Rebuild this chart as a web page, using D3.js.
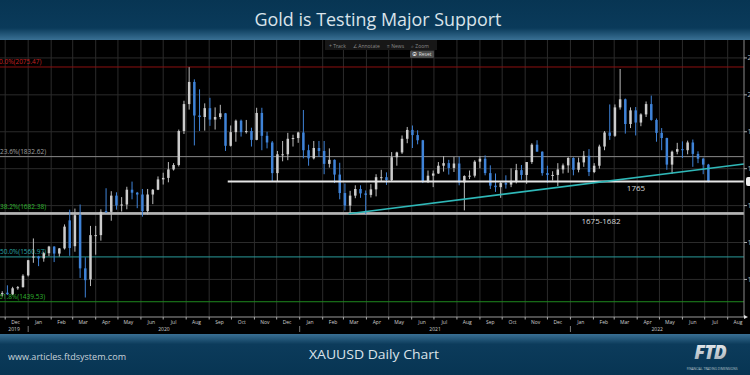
<!DOCTYPE html>
<html>
<head>
<meta charset="utf-8">
<title>Gold is Testing Major Support</title>
<script src="https://cdn.jsdelivr.net/npm/d3@7"></script>
<style>
  body { margin: 0; background: #000; overflow: hidden; }
  svg { display: block; font-family: "Open Sans", Lato, sans-serif; }
</style>
</head>
<body>
<div id="chart"></div>
<script>
// XAUUSD, one bar per week (monday)
const weeks = [
  "2019-11-25","2019-12-02","2019-12-09","2019-12-16","2019-12-23","2019-12-30",
  "2020-01-06","2020-01-13","2020-01-20","2020-01-27","2020-02-03","2020-02-10","2020-02-17","2020-02-24",
  "2020-03-02","2020-03-09","2020-03-16","2020-03-23","2020-03-30","2020-04-06","2020-04-13","2020-04-20","2020-04-27",
  "2020-05-04","2020-05-11","2020-05-18","2020-05-25","2020-06-01","2020-06-08","2020-06-15","2020-06-22","2020-06-29",
  "2020-07-06","2020-07-13","2020-07-20","2020-07-27","2020-08-03","2020-08-10","2020-08-17","2020-08-24","2020-08-31",
  "2020-09-07","2020-09-14","2020-09-21","2020-09-28","2020-10-05","2020-10-12","2020-10-19","2020-10-26",
  "2020-11-02","2020-11-09","2020-11-16","2020-11-23","2020-11-30","2020-12-07","2020-12-14","2020-12-21","2020-12-28",
  "2021-01-04","2021-01-11","2021-01-18","2021-01-25","2021-02-01","2021-02-08","2021-02-15","2021-02-22",
  "2021-03-01","2021-03-08","2021-03-15","2021-03-22","2021-03-29","2021-04-05","2021-04-12","2021-04-19","2021-04-26",
  "2021-05-03","2021-05-10","2021-05-17","2021-05-24","2021-05-31","2021-06-07","2021-06-14","2021-06-21","2021-06-28",
  "2021-07-05","2021-07-12","2021-07-19","2021-07-26","2021-08-02","2021-08-09","2021-08-16","2021-08-23","2021-08-30",
  "2021-09-06","2021-09-13","2021-09-20","2021-09-27","2021-10-04","2021-10-11","2021-10-18","2021-10-25",
  "2021-11-01","2021-11-08","2021-11-15","2021-11-22","2021-11-29","2021-12-06","2021-12-13","2021-12-20","2021-12-27",
  "2022-01-03","2022-01-10","2022-01-17","2022-01-24","2022-01-31","2022-02-07","2022-02-14","2022-02-21","2022-02-28",
  "2022-03-07","2022-03-14","2022-03-21","2022-03-28","2022-04-04","2022-04-11","2022-04-18","2022-04-25",
  "2022-05-02","2022-05-09","2022-05-16","2022-05-23","2022-05-30","2022-06-06","2022-06-13","2022-06-20","2022-06-27","2022-07-04"
];
const opens = [
  1462,1464,1460,1476,1479,1511,
  1560,1562,1557,1571,1589,1570,1584,1660,
  1590,1675,1530,1500,1620,1620,1685,1683,1727,
  1700,1703,1743,1735,1730,1685,1730,1743,1771,
  1775,1798,1810,1902,1975,2035,1944,1940,1964,
  1933,1940,1950,1862,1899,1930,1899,1902,
  1878,1951,1889,1871,1788,1839,1839,1881,1883,
  1898,1850,1828,1856,1848,1813,1824,1784,
  1734,1700,1727,1745,1733,1729,1744,1777,1777,
  1769,1831,1844,1881,1905,1891,1877,1764,1781,
  1787,1808,1815,1802,1814,1763,1780,1781,1819,
  1827,1788,1754,1750,1761,1757,1767,1796,
  1783,1818,1865,1846,1788,1783,1783,1798,1809,
  1829,1797,1817,1835,1791,1808,1860,1898,1889,
  1966,1988,1921,1958,1925,1947,1975,1932,
  1897,1883,1811,1846,1853,1850,1871,1840,1827,1811
];
const highs = [
  1468,1484,1480,1482,1514,1553,
  1611,1564,1575,1591,1590,1585,1649,1689,
  1692,1703,1560,1645,1645,1690,1747,1739,1736,
  1723,1751,1765,1737,1745,1745,1745,1779,1789,
  1818,1815,1906,1984,2075,2042,2015,1977,1992,
  1966,1973,1951,1917,1933,1933,1932,1911,
  1965,1965,1900,1875,1848,1875,1897,1892,1900,
  1959,1865,1875,1875,1875,1855,1825,1816,
  1760,1740,1755,1755,1741,1758,1785,1797,1790,
  1845,1846,1890,1913,1917,1904,1878,1795,1795,
  1818,1834,1824,1832,1832,1782,1795,1823,1834,
  1836,1809,1787,1765,1782,1801,1813,1810,
  1818,1869,1877,1847,1808,1793,1815,1814,1831,
  1831,1830,1848,1853,1815,1865,1902,1974,1974,
  2070,1990,1966,1967,1950,1982,1998,1936,
  1910,1884,1849,1870,1874,1876,1879,1847,1830,1813
];
const lows = [
  1454,1458,1458,1472,1478,1508,
  1545,1536,1548,1563,1547,1562,1581,1564,
  1575,1504,1451,1482,1567,1605,1680,1659,1689,
  1684,1690,1717,1693,1670,1676,1704,1742,1757,
  1763,1795,1806,1894,1960,1863,1902,1903,1916,
  1906,1934,1848,1860,1873,1887,1895,1860,
  1877,1850,1855,1764,1765,1820,1823,1860,1870,
  1828,1808,1825,1832,1785,1803,1761,1717,
  1687,1676,1720,1721,1677,1722,1725,1764,1756,
  1766,1808,1840,1869,1856,1866,1761,1761,1750,
  1786,1792,1784,1791,1755,1687,1772,1776,1801,
  1782,1745,1737,1721,1746,1750,1760,1770,
  1759,1813,1847,1781,1762,1768,1753,1787,1789,
  1782,1790,1805,1780,1788,1800,1850,1878,1886,
  1960,1895,1910,1890,1915,1940,1930,1873,
  1850,1797,1786,1839,1829,1839,1805,1815,1785,1763
];
const closes = [
  1463,1460,1476,1479,1510,1552,
  1562,1557,1571,1589,1570,1584,1643,1585,
  1674,1530,1498,1620,1620,1683,1683,1727,1700,
  1703,1743,1735,1730,1685,1730,1743,1771,1775,
  1798,1810,1902,1975,2035,1944,1940,1964,1933,
  1940,1950,1862,1899,1930,1899,1902,1878,
  1951,1889,1871,1788,1839,1839,1881,1883,1898,
  1850,1828,1856,1848,1813,1824,1784,1734,
  1700,1727,1745,1733,1729,1744,1777,1777,1769,
  1831,1844,1881,1905,1891,1877,1764,1781,1787,
  1808,1815,1802,1814,1763,1780,1781,1819,1827,
  1788,1754,1750,1761,1757,1767,1796,1783,
  1818,1865,1846,1788,1783,1783,1798,1809,1829,
  1797,1817,1835,1791,1808,1860,1898,1889,1966,
  1988,1921,1958,1925,1947,1975,1932,1897,
  1883,1811,1846,1853,1850,1871,1840,1827,1811,1765
];

const fibNames = ["0.0%", "23.6%", "38.2%", "50.0%", "61.8%"];
const fibPrices = [2075.47, 1832.62, 1682.38, 1560.97, 1439.53];
const priceTicks = [1500, 1600, 1700, 1800, 1900, 2000, 2100];
const supportPrice = 1765;
const supportFrom = "2020-09-26";
const zone = [1675, 1682.38];
const trendDates = ["2021-03-08", "2022-08-23"];
const trendPrices = [1678, 1813];
const toolNames = ["+ Track", "\u2220 Annotate", "\u2261 News", "\u2315 Zoom"];

const W = 750, H = 375;
const plotTop = 40, axisY = 317, plotRight = 744;
const parse = d3.timeParse("%Y-%m-%d");

const svg = d3.select("#chart").append("svg").attr("width", W).attr("height", H);
const defs = svg.append("defs");

// header / footer gradients
const g1 = defs.append("linearGradient").attr("id", "hdr").attr("x1", 0).attr("y1", 0).attr("x2", 0).attr("y2", 1);
g1.append("stop").attr("offset", "0%").attr("stop-color", "#073553");
g1.append("stop").attr("offset", "70%").attr("stop-color", "#0a3a5a");
g1.append("stop").attr("offset", "100%").attr("stop-color", "#3a7094");
const g2 = defs.append("linearGradient").attr("id", "ftr").attr("x1", 0).attr("y1", 0).attr("x2", 0).attr("y2", 1);
g2.append("stop").attr("offset", "0%").attr("stop-color", "#3a7094");
g2.append("stop").attr("offset", "25%").attr("stop-color", "#0c3b5b");
g2.append("stop").attr("offset", "100%").attr("stop-color", "#073553");
const g3 = defs.append("linearGradient").attr("id", "logo").attr("x1", 0).attr("y1", 0).attr("x2", 0).attr("y2", 1);
g3.append("stop").attr("offset", "0%").attr("stop-color", "#f4f6f8");
g3.append("stop").attr("offset", "100%").attr("stop-color", "#9aa6b0");

svg.append("rect").attr("width", W).attr("height", H).attr("fill", "#000");

// scales
const x = d3.scaleTime()
  .domain([new Date(2019, 10, 24), new Date(2022, 7, 23)])
  .range([0, plotRight]);
const y = d3.scaleLinear().domain([1398.2, 2148.6]).range([axisY, plotTop]);

const plot = svg.append("g");

// grid
const months = d3.timeMonth.range(new Date(2019, 11, 1), new Date(2022, 8, 1));
plot.selectAll(".vgrid").data(months).enter().append("line")
  .attr("x1", d => x(d)).attr("x2", d => x(d))
  .attr("y1", plotTop).attr("y2", axisY)
  .attr("stroke", "#2b2b2b").attr("stroke-width", 1);
plot.selectAll(".hgrid").data(priceTicks).enter().append("line")
  .attr("x1", 0).attr("x2", plotRight)
  .attr("y1", d => y(d)).attr("y2", d => y(d))
  .attr("stroke", "#2b2b2b").attr("stroke-width", 1);

// support zone 1675-1682
plot.append("rect")
  .attr("x", 0).attr("width", plotRight)
  .attr("y", y(zone[1])).attr("height", y(zone[0]) - y(zone[1]))
  .attr("fill", "#b4b4b4");

// fib lines + labels
const fibLine = ["#8c1010", "#8a8a8a", "#b4b4b4", "#2a9a9a", "#1f8a1f"];
const fibText = ["#c82020", "#a0a0a0", "#2fb52f", "#2aa5a5", "#2fb52f"];
fibPrices.forEach((p, i) => {
  if (i != 2) {
    plot.append("line").attr("x1", 0).attr("x2", plotRight)
      .attr("y1", y(p)).attr("y2", y(p))
      .attr("stroke", fibLine[i]).attr("stroke-width", 1);
  }
  plot.append("text")
    .attr("x", i == 0 || i == 4 ? -1 : 0).attr("y", y(p) - 3)
    .attr("fill", fibText[i]).attr("font-size", 6.5)
    .text(fibNames[i] + "(" + p.toFixed(2) + ")");
});

// price bars
const bars = weeks.map((w, i) => ({
  date: parse(w), o: opens[i], h: highs[i], l: lows[i], c: closes[i]
}));
const dayW = x(new Date(2020, 0, 2)) - x(new Date(2020, 0, 1));
const bar = plot.selectAll(".bar").data(bars).enter().append("g");
bar.append("line")
  .attr("x1", d => x(d.date) + 2 * dayW).attr("x2", d => x(d.date) + 2 * dayW)
  .attr("y1", d => y(d.h)).attr("y2", d => y(d.l))
  .attr("stroke", d => d.c >= d.o ? "#bdbdbd" : "#3f83d8").attr("stroke-width", 1);
bar.append("rect")
  .attr("x", d => x(d.date) + 2 * dayW - 1.25).attr("width", 2.5)
  .attr("y", d => y(Math.max(d.o, d.c)))
  .attr("height", d => Math.max(1, Math.abs(y(d.o) - y(d.c))))
  .attr("fill", d => d.c >= d.o ? "#cccccc" : "#3f83d8");

// 1765 support line
plot.append("line")
  .attr("x1", x(parse(supportFrom))).attr("x2", plotRight)
  .attr("y1", y(supportPrice)).attr("y2", y(supportPrice))
  .attr("stroke", "#e6e6e6").attr("stroke-width", 2);

// rising trend line
plot.append("line")
  .attr("x1", x(parse(trendDates[0]))).attr("y1", y(trendPrices[0]))
  .attr("x2", x(parse(trendDates[1]))).attr("y2", y(trendPrices[1]))
  .attr("stroke", "#2fb8b8").attr("stroke-width", 1.5);

plot.append("text").attr("x", 636).attr("y", 191)
  .attr("text-anchor", "middle").attr("fill", "#d8d8d8").attr("font-size", 8)
  .text("1765");
plot.append("text").attr("x", 601).attr("y", 224)
  .attr("text-anchor", "middle").attr("fill", "#d8d8d8").attr("font-size", 8)
  .text("1675-1682");

// right price axis (labels run past the page edge, as on the source)
plot.append("line").attr("x1", plotRight).attr("x2", plotRight).attr("y1", plotTop).attr("y2", axisY)
  .attr("stroke", "#8a8a8a");
priceTicks.forEach(p => {
  plot.append("line").attr("x1", plotRight).attr("x2", plotRight + 3).attr("y1", y(p)).attr("y2", y(p))
    .attr("stroke", "#aaa");
  plot.append("text").attr("x", plotRight + 3.5).attr("y", y(p) + 2.5)
    .attr("fill", "#bbb").attr("font-size", 7).text(p);
});
plot.append("rect").attr("x", plotRight + 2).attr("y", y(supportPrice) - 4.5)
  .attr("width", 12).attr("height", 9).attr("rx", 2).attr("fill", "#f0f0f0");

// time axis
plot.append("line").attr("x1", 0).attr("x2", plotRight).attr("y1", axisY).attr("y2", axisY)
  .attr("stroke", "#9a9a9a");
plot.selectAll(".tick").data(months).enter().append("line")
  .attr("x1", d => x(d)).attr("x2", d => x(d))
  .attr("y1", axisY).attr("y2", axisY + 2.5)
  .attr("stroke", "#aaa");
plot.selectAll(".mlab").data(months).enter().append("text")
  .attr("x", d => x(d3.timeDay.offset(d, 14)))
  .attr("y", axisY + 6.8)
  .attr("text-anchor", "middle").attr("fill", "#cfcfcf").attr("font-size", 5)
  .text(d3.timeFormat("%b"));
plot.append("path")
  .attr("d", `M${plotRight},${axisY - 2}L${plotRight + 4},${axisY}L${plotRight},${axisY + 2}Z`)
  .attr("fill", "#ddd");

// years, centred on the visible part of each year
const years = [2019, 2020, 2021, 2022];
years.forEach(yr => {
  const a = Math.max(0, x(new Date(yr, 0, 1)));
  const b = Math.min(plotRight, x(new Date(yr + 1, 0, 1)));
  plot.append("text").attr("x", (a + b) / 2).attr("y", axisY + 13.5)
    .attr("text-anchor", "middle").attr("fill", "#cfcfcf").attr("font-size", 5)
    .text(yr);
  if (yr > 2019) {
    plot.append("line").attr("x1", a).attr("x2", a)
      .attr("y1", axisY + 9).attr("y2", axisY + 15).attr("stroke", "#777");
  }
});

// chart toolbar
const tb = svg.append("g");
tb.append("rect").attr("x", 325).attr("y", 40).attr("width", 112).attr("height", 10).attr("fill", "#171717");
const toolX = [329, 353, 387, 411];
toolNames.forEach((t, i) => {
  tb.append("text").attr("x", toolX[i]).attr("y", 47.5)
    .attr("fill", "#8a8a8a").attr("font-size", 5).text(t);
});
tb.append("rect").attr("x", 410).attr("y", 50.5).attr("width", 24).attr("height", 7.5)
  .attr("rx", 1).attr("fill", "#4a4a4a");
tb.append("text").attr("x", 422).attr("y", 56).attr("text-anchor", "middle")
  .attr("fill", "#ddd").attr("font-size", 5).text("\u29BF Reset");

// header
svg.append("rect").attr("width", W).attr("height", 40).attr("fill", "url(#hdr)");
svg.append("text").attr("x", 378).attr("y", 26)
  .attr("text-anchor", "middle").attr("fill", "#d9e3ea")
  .attr("font-size", 17.5).attr("textLength", 247).attr("lengthAdjust", "spacingAndGlyphs")
  .text("Gold is Testing Major Support");

// footer
svg.append("rect").attr("y", 334).attr("width", W).attr("height", 41).attr("fill", "url(#ftr)");
svg.append("text").attr("x", 8).attr("y", 360)
  .attr("fill", "#c9d3db").attr("font-size", 9.5)
  .attr("textLength", 118).attr("lengthAdjust", "spacingAndGlyphs")
  .text("www.articles.ftdsystem.com");
svg.append("text").attr("x", 374).attr("y", 359)
  .attr("text-anchor", "middle").attr("fill", "#dbe3e9").attr("font-size", 13)
  .attr("textLength", 130).attr("lengthAdjust", "spacingAndGlyphs")
  .text("XAUUSD Daily Chart");
svg.append("text").attr("x", 710).attr("y", 359)
  .attr("text-anchor", "middle").attr("fill", "url(#logo)")
  .attr("font-size", 19).attr("font-weight", 800).attr("font-style", "italic")
  .attr("letter-spacing", -1)
  .text("FTD");
svg.append("text").attr("x", 712).attr("y", 369.5)
  .attr("text-anchor", "middle").attr("fill", "#b9c4cc").attr("font-size", 3.2)
  .text("FINANCIAL TRADING DIMENSIONS");
</script>
</body>
</html>
